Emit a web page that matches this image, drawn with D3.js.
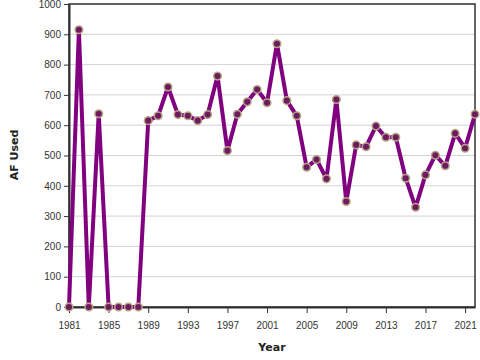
<!DOCTYPE html>
<html><head><meta charset="utf-8">
<script src="https://cdn.jsdelivr.net/npm/d3@7"></script>
<style>body{margin:0;background:#fff}svg{display:block;font-family:"DejaVu Sans",sans-serif}</style>
</head><body><svg id="c" width="480" height="360"></svg>
<script>
const years = d3.range(1981, 2023);
const afUsed = [0,915,0,638,0,0,0,0,615,631,726,635,631,615,635,762,516,636,677,718,674,869,681,631,461,487,423,685,348,535,529,597,560,560,425,329,436,501,466,573,524,636];
const yTicks = [0,100,200,300,400,500,600,700,800,900,1000];
const xTicks = d3.range(1981, 2022, 4);

const m = {l:69, r:475, t:4, b:307};
const svg = d3.select("#c");
const x = d3.scaleLinear().domain([1981, 2022]).range([m.l, m.r]);
const y = d3.scaleLinear().domain([0, 1000]).range([m.b, m.t]);

svg.append("g").selectAll("line").data(yTicks).join("line")
  .attr("x1", m.l).attr("x2", m.r).attr("y1", d=>y(d)).attr("y2", d=>y(d))
  .attr("stroke", "#d3d3d3").attr("stroke-width", 1);

const yAxis = svg.append("g").attr("transform", `translate(${m.l},0)`)
  .call(d3.axisLeft(y).tickValues(yTicks).tickFormat(d3.format("d")).tickSize(5).tickSizeOuter(0));
const xAxis = svg.append("g").attr("transform", `translate(0,${m.b})`)
  .call(d3.axisBottom(x).tickValues(xTicks).tickFormat(d3.format("d")).tickSize(6).tickSizeOuter(0));
[yAxis, xAxis].forEach(a => {
  a.selectAll("text").attr("fill", "#333").style("font-size", "10px");
  a.selectAll("line").attr("stroke", "#333");
  a.select(".domain").attr("stroke", "#333").attr("stroke-width", 2);
});
xAxis.selectAll("text").attr("dy", "1.3em");

svg.append("rect").attr("x", m.l).attr("y", m.t).attr("width", m.r - m.l).attr("height", m.b - m.t)
  .attr("fill", "none").attr("stroke", "#333").attr("stroke-width", 1.5);

svg.append("path").datum(afUsed)
  .attr("fill", "none").attr("stroke", "#800080").attr("stroke-width", 4).attr("stroke-linejoin", "round")
  .attr("d", d3.line().x((d,i)=>x(years[i])).y(d=>y(d)));

svg.append("g").selectAll("circle").data(afUsed).join("circle")
  .attr("cx", (d,i)=>x(years[i])).attr("cy", d=>y(d)).attr("r", 3.8)
  .attr("fill", "#6e1a5e").attr("stroke", "#b5a585").attr("stroke-width", 1.5);

svg.append("text").attr("x", 272).attr("y", 351).attr("text-anchor", "middle")
  .attr("font-weight", "bold").attr("font-size", 11).attr("fill", "#222").text("Year");
svg.append("text").attr("transform", "translate(18,155) rotate(-90)").attr("text-anchor", "middle")
  .attr("font-weight", "bold").attr("font-size", 11).attr("fill", "#222").text("AF Used");
</script></body></html>
